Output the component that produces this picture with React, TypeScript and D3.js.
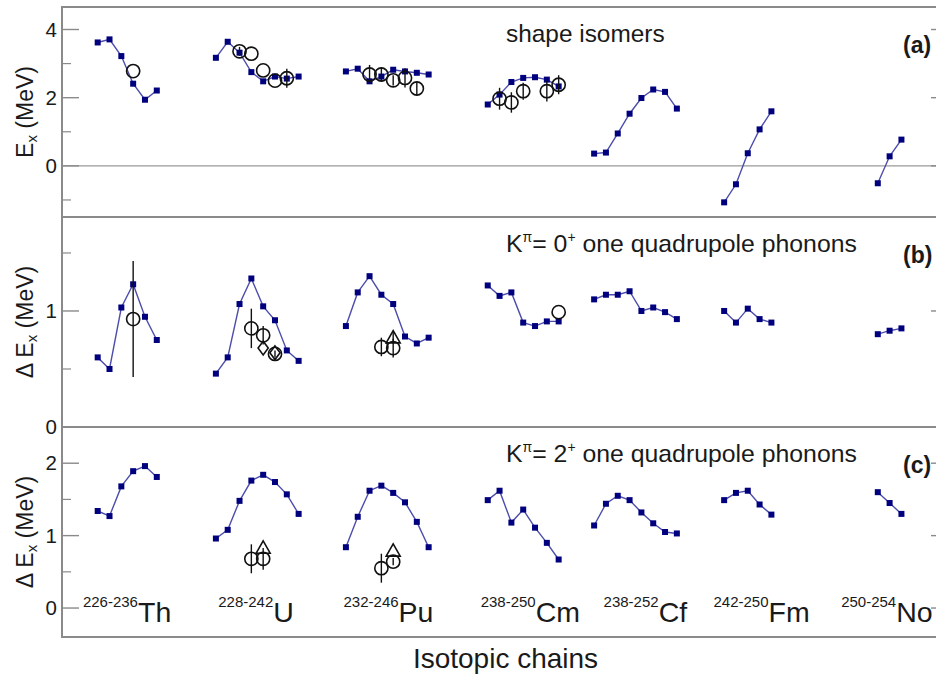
import React from "react";
import * as d3 from "d3";

// ---------------- DATA ----------------
const chainNames = ["Th", "U", "Pu", "Cm", "Cf", "Fm", "No"];
const chainRanges = ["226-236", "228-242", "232-246", "238-250", "238-252", "242-250", "250-254"];
// index (on the isotope axis) of the first isotope of every chain
const chainStart = [0, 10, 21, 33, 42, 53, 66];
// index where each chain label begins
const labelStart = [-1.25, 10.2, 20.8, 32.4, 42.8, 52.1, 62.9];

// (a) shape isomers, E_x (MeV)
const isomerTh = [3.62, 3.71, 3.22, 2.41, 1.94, 2.21];
const isomerU = [3.17, 3.64, 3.32, 2.75, 2.48, 2.62, 2.56, 2.62];
const isomerPu = [2.77, 2.85, 2.48, 2.62, 2.82, 2.77, 2.73, 2.68];
const isomerCm = [1.8, 2.09, 2.46, 2.58, 2.6, 2.53, 2.33];
const isomerCf = [0.36, 0.39, 0.95, 1.53, 1.99, 2.24, 2.17, 1.68];
const isomerFm = [-1.07, -0.54, 0.37, 1.07, 1.6];
const isomerNo = [-0.51, 0.28, 0.77];

// (b) K=0+ one quadrupole phonon, ΔE_x (MeV)
const k0Th = [0.6, 0.5, 1.03, 1.23, 0.95, 0.75];
const k0U = [0.46, 0.6, 1.06, 1.28, 1.04, 0.92, 0.66, 0.57];
const k0Pu = [0.87, 1.16, 1.3, 1.14, 1.06, 0.78, 0.72, 0.77];
const k0Cm = [1.22, 1.13, 1.16, 0.9, 0.87, 0.91, 0.91];
const k0Cf = [1.1, 1.14, 1.14, 1.17, 1.0, 1.03, 0.99, 0.93];
const k0Fm = [1.0, 0.9, 1.02, 0.93, 0.9];
const k0No = [0.8, 0.83, 0.85];

// (c) K=2+ one quadrupole phonon, ΔE_x (MeV)
const k2Th = [1.34, 1.27, 1.68, 1.89, 1.96, 1.81];
const k2U = [0.96, 1.08, 1.48, 1.76, 1.84, 1.74, 1.57, 1.3];
const k2Pu = [0.84, 1.26, 1.62, 1.69, 1.59, 1.46, 1.19, 0.84];
const k2Cm = [1.49, 1.62, 1.18, 1.36, 1.11, 0.9, 0.67];
const k2Cf = [1.14, 1.44, 1.55, 1.49, 1.32, 1.17, 1.05, 1.03];
const k2Fm = [1.49, 1.59, 1.62, 1.43, 1.29];
const k2No = [1.6, 1.45, 1.3];

// experimental points: [chain, position in chain, value, error, shape]
type Exp = [number, number, number, number, string];
const expIsomer: Exp[] = [
  [0, 3, 2.78, 0, "circle"],
  [1, 2, 3.36, 0.13, "circle"],
  [1, 3, 3.29, 0, "circle"],
  [1, 4, 2.8, 0, "circle"],
  [1, 5, 2.5, 0, "circle"],
  [1, 6, 2.57, 0.28, "circle"],
  [2, 2, 2.68, 0.28, "circle"],
  [2, 3, 2.68, 0.2, "circle"],
  [2, 4, 2.51, 0.15, "circle"],
  [2, 5, 2.58, 0.28, "circle"],
  [2, 6, 2.27, 0.2, "circle"],
  [3, 1, 1.97, 0.32, "circle"],
  [3, 2, 1.86, 0.3, "circle"],
  [3, 3, 2.19, 0.25, "circle"],
  [3, 5, 2.19, 0.3, "circle"],
  [3, 6, 2.38, 0.28, "circle"],
];
const expK0: Exp[] = [
  [0, 3, 0.93, 0.5, "circle"],
  [1, 3, 0.85, 0.17, "circle"],
  [1, 4, 0.79, 0.08, "circle"],
  [1, 4, 0.68, 0, "diamond"],
  [1, 5, 0.64, 0, "diamond"],
  [1, 5, 0.63, 0.03, "circle"],
  [2, 3, 0.69, 0.08, "circle"],
  [2, 4, 0.68, 0.08, "circle"],
  [2, 4, 0.77, 0.05, "triangle"],
  [3, 6, 0.99, 0, "circle"],
];
const expK2: Exp[] = [
  [1, 3, 0.68, 0.2, "circle"],
  [1, 4, 0.68, 0.15, "circle"],
  [1, 4, 0.83, 0, "triangle"],
  [2, 3, 0.55, 0.2, "circle"],
  [2, 4, 0.64, 0.05, "circle"],
  [2, 4, 0.79, 0, "triangle"],
];

const panelSeries = [
  [isomerTh, isomerU, isomerPu, isomerCm, isomerCf, isomerFm, isomerNo],
  [k0Th, k0U, k0Pu, k0Cm, k0Cf, k0Fm, k0No],
  [k2Th, k2U, k2Pu, k2Cm, k2Cf, k2Fm, k2No],
];
const panelExp = [expIsomer, expK0, expK2];
const panelTitles = ["shape isomers", "0", "2"];
const panelTags = ["(a)", "(b)", "(c)"];
const majorTicks = [[0, 2, 4], [0, 1], [0, 1, 2]];
const minorTicks = [[-1, 1, 3], [0.5, 1.5], [0.5, 1.5]];

// ---------------- LAYOUT ----------------
const W = 936;
const H = 679;
const LEFT = 62;
const RIGHT = 948;
const panels = [
  { top: 7, bottom: 217, domain: [-1.5, 4.66] },
  { top: 217, bottom: 427, domain: [0, 1.81] },
  { top: 427, bottom: 637, domain: [-0.4, 2.5] },
];
const FONT = "'Liberation Sans', Arial, Helvetica, sans-serif";
const LINE = "#4d4dac";
const SQ = "#00007f";
const BORDER = "#8a8a8a";
const TXT = "#1a1a1a";

const x = d3.scaleLinear().domain([-3.02, 71.94]).range([LEFT, RIGHT]);

function Marker({ shape, cx, cy }: { shape: string; cx: number; cy: number }) {
  const common = { fill: "none", stroke: "#111", strokeWidth: 1.6 };
  if (shape === "circle") return <circle cx={cx} cy={cy} r={6.6} {...common} />;
  if (shape === "diamond") {
    const s = 6.8;
    return <path d={`M${cx},${cy - s}L${cx + s * 0.75},${cy}L${cx},${cy + s}L${cx - s * 0.75},${cy}Z`} {...common} />;
  }
  const s = 7;
  return <path d={`M${cx},${cy - s}L${cx + s},${cy + s * 0.75}L${cx - s},${cy + s * 0.75}Z`} {...common} />;
}

function Panel({ p }: { p: number }) {
  const { top, bottom, domain } = panels[p];
  const y = d3.scaleLinear().domain(domain).range([bottom, top]);
  const series = panelSeries[p];
  const titleX = 506;
  const titleY = top + 35;
  return (
    <g>
      {p === 0 && (
        <line x1={LEFT} x2={RIGHT} y1={y(0)} y2={y(0)} stroke="#9a9a9a" strokeWidth={1.1} />
      )}
      {/* ticks */}
      {majorTicks[p].map((t) => (
        <g key={"M" + t}>
          <line x1={LEFT} x2={LEFT + 17} y1={y(t)} y2={y(t)} stroke={BORDER} strokeWidth={1.4} />
          <line x1={RIGHT - 17} x2={RIGHT} y1={y(t)} y2={y(t)} stroke={BORDER} strokeWidth={1.4} />
          <text x={57} y={y(t) + 7} textAnchor="end" fontSize={20.5} fill={TXT} fontFamily={FONT}>
            {t}
          </text>
        </g>
      ))}
      {minorTicks[p].map((t) => (
        <g key={"m" + t}>
          <line x1={LEFT} x2={LEFT + 9} y1={y(t)} y2={y(t)} stroke={BORDER} strokeWidth={1.2} />
          <line x1={RIGHT - 9} x2={RIGHT} y1={y(t)} y2={y(t)} stroke={BORDER} strokeWidth={1.2} />
        </g>
      ))}
      {/* theory lines */}
      {series.map((vals, c) => {
        const gen = d3
          .line<number>()
          .x((_, i) => x(chainStart[c] + i))
          .y((d) => y(d));
        return <path key={"l" + c} d={gen(vals) || ""} fill="none" stroke={LINE} strokeWidth={1.4} />;
      })}
      {series.map((vals, c) =>
        vals.map((v, i) => (
          <rect
            key={"s" + c + "-" + i}
            x={x(chainStart[c] + i) - 3}
            y={y(v) - 3}
            width={6}
            height={6}
            fill={SQ}
          />
        ))
      )}
      {/* experiment */}
      {panelExp[p].map((e, k) => {
        const [c, i, v, err, shape] = e;
        const cx = x(chainStart[c] + i);
        return (
          <g key={"e" + k}>
            {err > 0 && (
              <line x1={cx} x2={cx} y1={y(v - err)} y2={y(v + err)} stroke="#111" strokeWidth={1.4} />
            )}
            <Marker shape={shape} cx={cx} cy={y(v)} />
          </g>
        );
      })}
      {/* panel title */}
      {p === 0 ? (
        <text x={titleX} y={titleY} fontSize={24.4} fill={TXT} fontFamily={FONT}>
          shape isomers
        </text>
      ) : (
        <text x={titleX} y={titleY} fontSize={24.8} fill={TXT} fontFamily={FONT}>
          <tspan>K</tspan>
          <tspan fontSize={14} dy={-10}>π</tspan>
          <tspan fontSize={24.8} dy={10}>= {panelTitles[p]}</tspan>
          <tspan fontSize={14} dy={-10}>+</tspan>
          <tspan fontSize={24.8} dy={10}> one quadrupole phonons</tspan>
        </text>
      )}
      <text x={903} y={top + 46} fontSize={23} fontWeight="bold" fill={TXT} fontFamily={FONT}>
        {panelTags[p]}
      </text>
      {/* y title */}
      <text
        transform={`translate(33,${(top + bottom) / 2}) rotate(-90)`}
        textAnchor="middle"
        fontSize={23}
        fill={TXT}
        fontFamily={FONT}
      >
        {p > 0 && <tspan>Δ </tspan>}
        <tspan>E</tspan>
        <tspan fontSize={15} dy={4}>x</tspan>
        <tspan dy={-4}> (MeV)</tspan>
      </text>
      <rect x={LEFT} y={top} width={RIGHT - LEFT} height={bottom - top} fill="none" stroke={BORDER} strokeWidth={2} />
    </g>
  );
}

export default function App() {
  return (
    <svg width={W} height={H} style={{ position: "absolute", left: 0, top: 0, background: "#fff" }}>
      <rect x={0} y={0} width={W} height={H} fill="#fff" />
      {panels.map((_, p) => (
        <Panel key={p} p={p} />
      ))}
      {chainNames.map((n, c) => (
        <text key={n} x={x(labelStart[c])} y={621.5} fill={TXT} fontFamily={FONT} fontSize={28}>
          <tspan fontSize={15} dy={-15}>{chainRanges[c]}</tspan>
          <tspan fontSize={28.5} dy={15}>{n}</tspan>
        </text>
      ))}
      <text x={505.5} y={668} textAnchor="middle" fontSize={28} fill={TXT} fontFamily={FONT}>
        Isotopic chains
      </text>
    </svg>
  );
}
